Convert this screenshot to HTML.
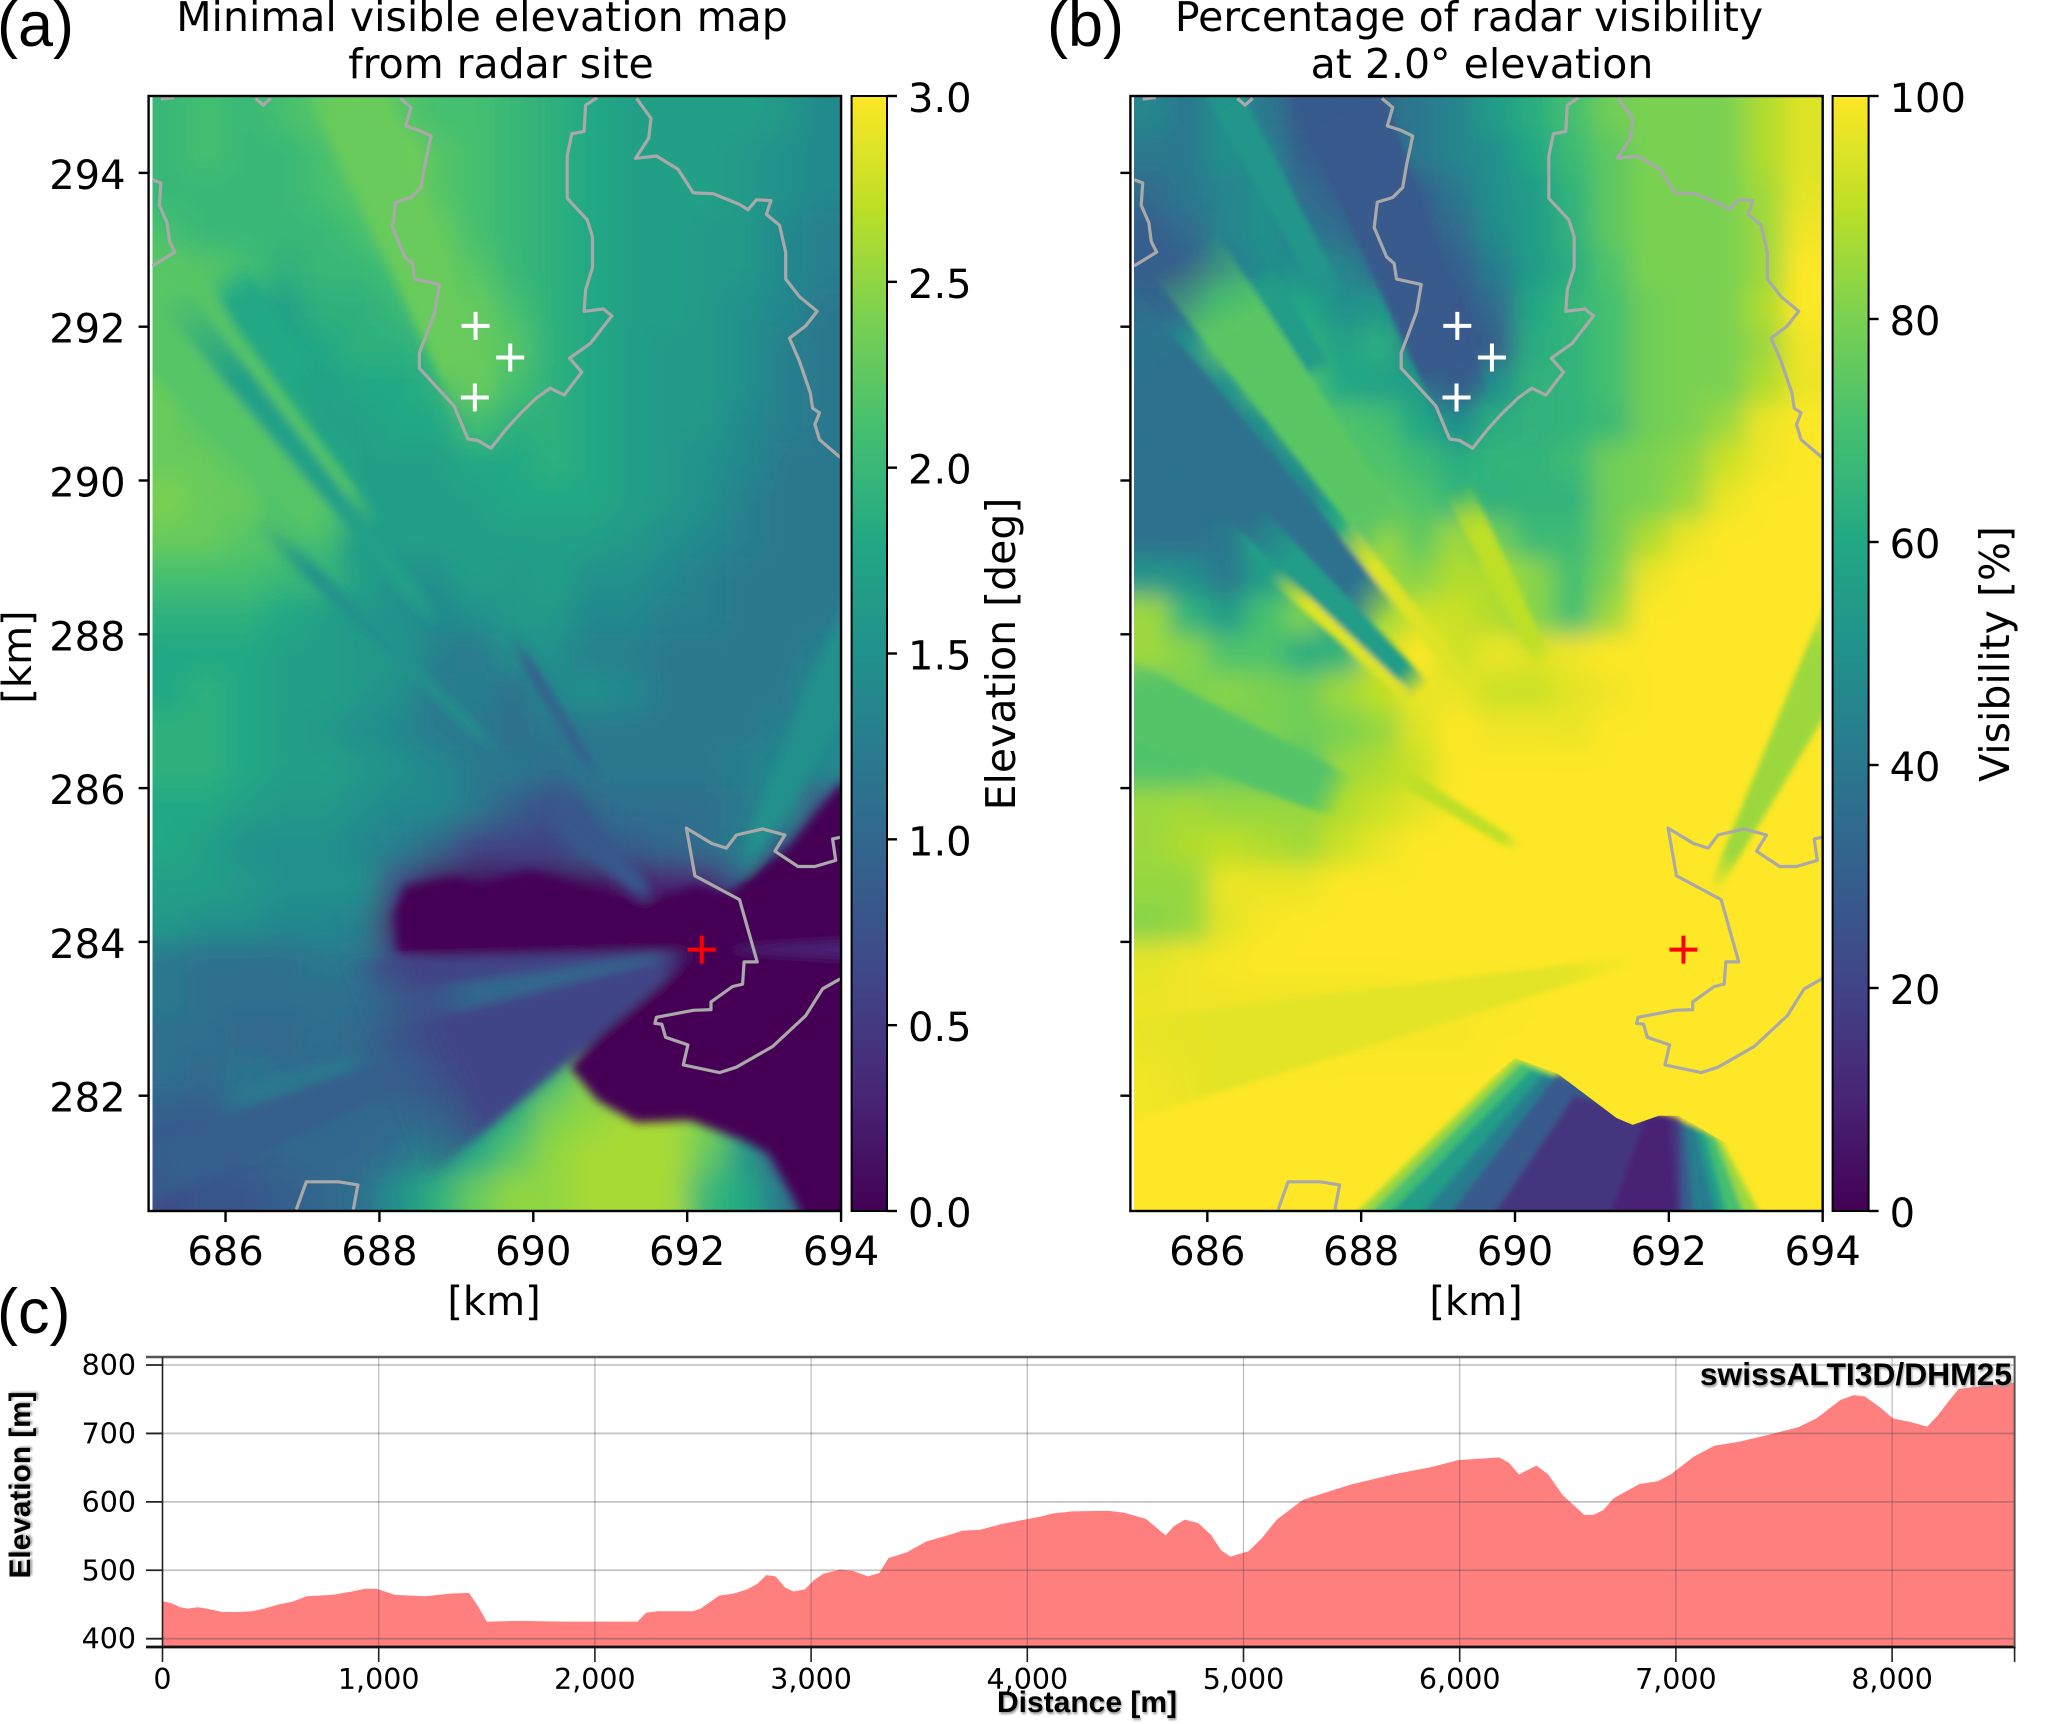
<!DOCTYPE html>
<html lang="en">
<head>
<meta charset="utf-8">
<title>Radar visibility maps and elevation profile</title>
<style>
html,body{margin:0;padding:0;background:#fff}
svg{display:block}
text{font-family:"DejaVu Sans","Liberation Sans",sans-serif;fill:#000}
.panel-tag{font-family:"Liberation Sans",sans-serif;font-size:63px}
.bold{font-family:"Liberation Sans",sans-serif;font-weight:700;filter:drop-shadow(1px 2px 1px #999)}
</style>
</head>
<body>
<svg id="fig" xmlns="http://www.w3.org/2000/svg" width="2067" height="1724" viewBox="0 0 2067 1724">
  <defs id="figDefs">
    <filter id="smoothA" filterUnits="userSpaceOnUse" x="60" y="20" width="880" height="1280"><feGaussianBlur stdDeviation="14"/></filter>
    <filter id="smoothB" filterUnits="userSpaceOnUse" x="1050" y="20" width="880" height="1280"><feGaussianBlur stdDeviation="12"/></filter>
    <filter id="softA" filterUnits="userSpaceOnUse" x="60" y="20" width="880" height="1280"><feGaussianBlur stdDeviation="5"/></filter>
    <filter id="softB" filterUnits="userSpaceOnUse" x="1050" y="20" width="880" height="1280"><feGaussianBlur stdDeviation="3"/></filter>
    <clipPath id="clipA"><rect x="152.5" y="96" width="688.5" height="1115"/></clipPath>
    <clipPath id="clipB"><rect x="1134" y="96" width="688.7" height="1115"/></clipPath>
    <clipPath id="clipAfull"><rect x="148.6" y="96" width="692.4" height="1115"/></clipPath>
    <clipPath id="clipBfull"><rect x="1130.4" y="96" width="692.3" height="1115"/></clipPath>
    <clipPath id="clipRidgeB"></clipPath>
    <linearGradient id="cbarGrad" x1="0" y1="1" x2="0" y2="0"></linearGradient>
  </defs>
  <text class="panel-tag" x="-3" y="46">(a)</text>
  <text class="panel-tag" x="1047" y="46">(b)</text>
  <text class="panel-tag" x="-3" y="1333">(c)</text>
  <text x="482" y="31" font-size="41" text-anchor="middle">Minimal visible elevation map</text>
  <text x="501" y="78" font-size="41" text-anchor="middle">from radar site</text>
  <text x="1469" y="31" font-size="41" text-anchor="middle">Percentage of radar visibility</text>
  <text x="1482" y="78" font-size="41" text-anchor="middle">at 2.0° elevation</text>
  <text font-size="40" text-anchor="middle" transform="translate(31,657) rotate(-90)">[km]</text>
  <text x="494" y="1315" font-size="40" text-anchor="middle">[km]</text>
  <text x="1476" y="1315" font-size="40" text-anchor="middle">[km]</text>
  <text font-size="41" text-anchor="middle" transform="translate(1015,654) rotate(-90)">Elevation [deg]</text>
  <text font-size="41" text-anchor="middle" transform="translate(2009,654) rotate(-90)">Visibility [%]</text>
  <text class="bold" font-size="29.8" text-anchor="middle" transform="translate(30,1485) rotate(-90)">Elevation [m]</text>
  <text class="bold" x="1087" y="1712" font-size="30" text-anchor="middle">Distance [m]</text>
  <g id="layerMaps"></g>
  <g id="layerProfile"></g>
  <text class="bold" x="2012" y="1385" font-size="31.8" text-anchor="end">swissALTI3D/DHM25</text>
</svg>
<script>
// ---------- colormap ----------
const viridisStops = ["#440154","#482475","#414487","#355f8d","#2a788e","#21918c","#22a884","#44bf70","#7ad151","#bddf26","#fde725"];

// ---------- map axes ----------
const mapXTicks = [686,688,690,692,694];
const mapYTicks = [294,292,290,288,286,284,282];
const elevationBarTicks = [0,0.5,1,1.5,2,2.5,3];
const elevationBarLabels = ["0.0","0.5","1.0","1.5","2.0","2.5","3.0"];
const visibilityBarTicks = [0,20,40,60,80,100];
const visibilityBarLabels = ["0","20","40","60","80","100"];
const gridEastKm = [685.25,685.75,686.25,686.75,687.25,687.75,688.25,688.75,689.25,689.75,690.25,690.75,691.25,691.75,692.25,692.75,693.25,693.75];
const gridNorthKm = [294.75,294.25,293.75,293.25,292.75,292.25,291.75,291.25,290.75,290.25,289.75,289.25,288.75,288.25,287.75,287.25,286.75,286.25,285.75,285.25,284.75,284.25,283.75,283.25,282.75,282.25,281.75,281.25,280.75];

// ---------- panel (a): minimal visible elevation, tenths of a degree ----------
const elevationTenths = [
[20,21,20,21,22,24,22,21,21,20,19,18,17,17,17,17,16,14],
[20,21,20,20,21,23,24,22,21,20,19,18,17,17,17,16,15,14],
[20,20,20,20,21,22,24,22,21,20,19,18,17,17,17,16,15,14],
[21,20,20,20,20,21,23,23,21,20,19,18,17,17,16,16,14,13],
[22,22,21,19,20,20,21,23,22,20,19,18,17,17,16,16,14,13],
[23,22,18,17,19,19,20,22,23,21,19,18,17,17,16,15,14,12],
[22,20,19,17,18,19,19,20,23,22,19,18,17,16,16,15,13,12],
[23,21,20,18,17,18,18,19,23,21,19,18,17,16,16,15,13,12],
[23,22,21,19,17,17,18,18,21,19,19,18,17,16,16,14,13,12],
[23,23,22,20,18,17,17,17,18,18,19,18,17,16,15,14,12,12],
[24,23,23,21,19,17,17,17,17,18,18,18,17,16,15,13,12,12],
[23,23,22,22,20,16,17,17,17,17,17,17,16,15,14,13,12,12],
[21,21,21,20,20,17,15,15,17,16,17,15,15,14,13,12,12,12],
[19,19,19,18,17,16,15,14,15,16,16,14,14,13,13,12,12,12],
[18,18,18,17,17,16,16,13,12,15,15,13,13,12,12,12,12,13],
[18,19,18,17,17,16,15,12,13,11,14,15,14,12,12,12,12,15],
[19,19,18,17,16,15,14,12,12,11,12,12,12,12,12,12,13,14],
[19,19,18,17,17,16,15,14,12,12,11,12,12,12,12,13,14,14],
[18,18,17,16,16,15,14,14,12,9,7,10,11,11,11,12,15,6],
[18,17,15,15,15,14,13,10,6,6,6,9,9,10,11,13,9,0],
[17,17,16,15,15,15,7,1,1,1,1,1,2,3,3,9,1,0],
[16,15,15,14,14,13,2,0,0,0,0,0,0,0,0,0,0,0],
[12,11,11,11,12,12,6,3,3,2,2,2,1,0,0,0,1,1],
[12,11,11,11,11,11,12,8,7,7,7,6,2,0,0,0,0,0],
[11,11,10,10,11,10,9,8,8,8,8,2,0,0,0,0,0,0],
[11,10,12,11,10,10,9,10,11,13,20,25,12,0,0,0,0,0],
[9,9,10,10,10,10,10,12,15,19,24,25,26,26,24,17,8,0],
[8,8,9,10,10,10,11,14,18,22,25,26,26,26,23,16,6,0],
[7,8,8,9,10,11,15,19,23,25,25,26,26,26,20,18,12,2]
];

// ---------- panel (a): zero-elevation regions around the radar (km, km) ----------
const clearZoneNorthA = [[688.24,283.85],[688.2,284.38],[688.33,284.73],[689.02,284.84],[689.28,284.75],[689.97,284.93],[690.66,284.73],[691.39,284.5],[692.12,284.73],[692.55,284.64],[693.33,285.25],[693.99,286.06],[694.1,286.06],[694.1,283.91],[688.93,283.85]];
const clearZoneSouthA = [[691.85,283.86],[694.1,283.86],[694.1,280.4],[693.5,280.4],[693.46,280.52],[693.07,281.24],[692.72,281.42],[692.03,281.68],[691.34,281.65],[690.83,281.94],[690.48,282.37]];

// ---------- panel (a): radial streaks, outer end in km ----------
const rayEastA = [687.2,684.3,685.3,686.0,686.4,689.7,690.1,694.6,694.6,688.0,688.3,685.9,684.3];
const rayNorthA = [296.0,293.2,292.4,292.7,289.5,288.0,286.0,288.7,283.9,282.3,283.14,281.88,280.7];
const rayStartA = [0.58,0.57,0.49,0.84,0.45,0.55,0.3,0.2,0.12,0.02,0.05,0.7,0.45];
const rayHalfWidthA = [0.5,0.72,0.2,0.25,0.12,0.07,0.3,0.42,0.15,1.55,0.22,0.12,0.4];
const rayValueA = [23,22,17,18,15,8,8,15,3,6,10,12,9];

// ---------- panel (b): visibility percent ----------
const visibilityPercent = [
[45,40,50,40,28,28,35,40,45,55,62,70,78,80,80,80,88,95],
[40,40,50,45,30,28,28,40,45,50,60,68,75,80,80,80,88,95],
[35,40,45,50,35,30,28,30,40,50,55,65,75,80,80,80,86,96],
[30,35,45,50,40,35,27,28,35,48,55,64,75,80,80,80,85,98],
[30,30,40,48,50,45,35,27,30,42,55,62,72,80,80,80,85,100],
[33,35,60,58,60,50,52,35,27,35,60,66,70,78,80,80,88,100],
[42,50,75,72,65,58,62,42,27,30,62,65,70,78,80,80,85,98],
[40,42,50,72,72,60,58,55,30,50,64,65,70,78,80,80,88,97],
[38,40,42,50,72,72,70,60,48,62,64,65,68,78,80,85,97,100],
[37,38,38,42,52,72,72,68,62,65,65,68,78,80,83,92,98,100],
[37,37,37,38,42,60,75,72,66,64,65,65,78,80,85,97,100,100],
[37,37,40,60,45,62,85,75,85,78,68,68,78,88,97,100,100,100],
[52,50,40,55,65,50,85,82,88,88,82,70,80,97,100,100,100,100],
[85,65,55,70,80,55,85,92,92,88,82,70,85,100,100,100,100,100],
[85,82,72,72,62,65,92,100,92,97,95,98,100,100,100,100,100,100],
[72,80,82,80,78,85,90,97,97,92,92,96,98,100,100,100,100,100],
[72,72,78,80,78,80,84,95,100,98,98,97,100,100,100,100,100,100],
[72,72,76,74,72,85,88,92,100,100,100,100,100,100,100,100,100,100],
[85,86,84,84,84,88,92,96,100,100,100,100,100,100,100,100,100,100],
[85,88,90,88,86,92,97,100,100,100,100,100,100,100,100,100,100,100],
[84,84,97,97,97,100,100,100,100,100,100,100,100,100,100,100,100,100],
[82,84,96,99,100,100,100,100,100,100,100,100,100,100,100,100,100,100],
[96,98,99,100,100,100,100,100,100,100,100,100,100,100,100,100,100,100],
[97,98,98,98,98,98,98,99,99,99,100,100,100,100,100,100,100,100],
[98,98,98,98,98,99,99,99,99,100,100,100,100,100,100,100,100,100],
[100,100,100,100,100,100,100,100,100,100,100,100,100,100,100,100,100,100],
[100,100,100,100,100,100,100,100,100,100,100,100,100,100,100,100,100,100],
[100,100,100,100,100,100,100,100,100,100,100,100,100,100,100,100,100,100],
[100,100,100,100,100,100,100,100,100,100,100,100,100,100,100,100,100,100]
];

// ---------- panel (b): radial streaks ----------
const rayEastB = [687.3,685.9,684.3,686.65,686.5,685.7,684.6,687.75,686.85,688.3,689.25,694.6,684.3];
const rayNorthB = [296.0,295.6,292.3,292.7,289.5,292.95,287.3,289.4,288.8,286.3,289.9,288.7,282.2];
const rayStartB = [0.58,0.72,0.5,0.85,0.6,0.58,0.58,0.6,0.65,0.55,0.62,0.16,0.08];
const rayHalfWidthB = [0.62,0.22,0.7,0.2,0.25,0.5,0.5,0.12,0.1,0.12,0.18,0.42,0.7];
const rayValueB = [28,52,37,55,55,74,73,95,95,90,90,85,96];

// ---------- panel (b): terrain-shadowed wedge south of the radar ----------
const wedgeOutlineB = [[687.4,280.4],[690.0,282.49],[690.55,282.29],[691.32,281.71],[691.53,281.62],[691.87,281.74],[692.13,281.74],[692.68,281.42],[692.98,281.24],[693.4,280.4]];
const wedgeLevelValue = [85,70,55,42,28,15,10];
const wedgeLeftBottomEast = [687.66,687.85,688.1,688.55,688.95,689.55,691.15];
const wedgeLeftTopEast = [690.0,690.08,690.21,690.38,690.55,690.77,691.7];
const wedgeLeftTopNorth = [282.49,282.43,282.34,282.29,282.29,282.0,281.71];
const wedgeRightTopEast = [692.68,692.6,692.47,692.34,692.21,692.13,692.0];
const wedgeRightTopNorth = [281.42,281.47,281.53,281.59,281.65,281.71,281.75];
const wedgeRightBottomEast = [693.32,693.07,692.81,692.68,692.34,692.17,692.13];

// ---------- municipal boundaries (km, km) ----------
const boundaryCentral = [[688.27,294.97],[688.41,294.85],[688.34,294.61],[688.50,294.56],[688.67,294.48],[688.59,294.10],[688.54,293.81],[688.41,293.68],[688.21,293.62],[688.17,293.29],[688.33,292.91],[688.43,292.82],[688.46,292.62],[688.78,292.55],[688.72,292.19],[688.59,291.84],[688.52,291.66],[688.52,291.46],[688.97,290.97],[689.15,290.54],[689.28,290.52],[689.45,290.42],[689.64,290.66],[689.84,290.88],[690.05,291.08],[690.22,291.20],[690.40,291.11],[690.63,291.41],[690.47,291.59],[690.74,291.78],[691.02,292.14],[690.91,292.23],[690.66,292.20],[690.68,292.48],[690.77,292.77],[690.77,293.17],[690.70,293.39],[690.44,293.67],[690.44,294.22],[690.50,294.51],[690.66,294.54],[690.68,294.88],[690.83,294.98]];
const boundaryEast = [[691.34,294.97],[691.53,294.71],[691.50,294.45],[691.33,294.19],[691.60,294.22],[691.88,294.05],[692.08,293.74],[692.34,293.73],[692.68,293.59],[692.79,293.52],[692.90,293.65],[693.09,293.64],[693.03,293.46],[693.20,293.32],[693.28,292.97],[693.28,292.62],[693.46,292.39],[693.69,292.20],[693.54,292.01],[693.33,291.85],[693.46,291.55],[693.60,291.14],[693.63,290.94],[693.72,290.88],[693.66,290.73],[693.72,290.53],[693.99,290.30]];
const boundaryWest = [[685.05,293.91],[685.16,293.87],[685.14,293.58],[685.24,293.35],[685.27,293.11],[685.34,292.97],[685.05,292.79]];
const boundaryNotch = [[686.39,294.97],[686.49,294.88],[686.59,294.97]];
const boundaryTopLeft = [[685.16,294.96],[685.33,294.98]];
const boundaryRadarNorth = [[693.99,285.36],[693.89,285.34],[693.93,285.06],[693.66,284.98],[693.44,284.98],[693.14,285.18],[693.27,285.39],[692.98,285.47],[692.64,285.39],[692.51,285.22],[692.32,285.28],[691.99,285.48],[692.10,284.86],[692.68,284.55],[692.91,283.74],[692.74,283.74],[692.72,283.45],[692.59,283.42],[692.31,283.22],[692.31,283.12],[692.08,283.11],[691.60,283.02],[691.58,282.94],[691.67,282.93],[691.72,282.76],[692.01,282.66],[691.95,282.40],[692.42,282.30],[692.64,282.37],[693.11,282.64],[693.54,283.04],[693.76,283.39],[693.99,283.52]];
const boundarySouth = [[686.92,280.52],[687.05,280.88],[687.47,280.88],[687.72,280.84],[687.66,280.52]];
const boundaries = [boundaryCentral,boundaryEast,boundaryWest,boundaryNotch,boundaryTopLeft,boundaryRadarNorth,boundarySouth];

// ---------- site markers ----------
const targetEast = [689.25,689.70,689.24];
const targetNorth = [292.01,291.60,291.08];
const radarEast = [692.19];
const radarNorth = [283.90];

// ---------- panel (c): terrain profile ----------
const profileXTicks = [0,1000,2000,3000,4000,5000,6000,7000,8000];
const profileXLabels = ["0","1,000","2,000","3,000","4,000","5,000","6,000","7,000","8,000"];
const profileYTicks = [400,500,600,700,800];
const profileDistance = [0,40,83,117,163,205,277,347,415,470,538,600,667,784,876,938,990,1076,1214,1337,1417,1460,1500,1644,1859,2197,2237,2290,2452,2489,2575,2643,2704,2750,2793,2836,2879,2919,2971,3011,3057,3134,3195,3263,3315,3358,3441,3533,3640,3702,3779,3886,4003,4056,4117,4207,4374,4449,4549,4640,4676,4728,4791,4849,4897,4940,5024,5085,5154,5275,5493,5690,5871,5992,6183,6228,6274,6355,6410,6476,6576,6619,6664,6712,6830,6915,6976,7082,7178,7293,7414,7566,7650,7762,7823,7874,7944,8004,8080,8162,8208,8262,8307,8383,8559];
const profileElevation = [455,452,446,444,446,444,439,439,440,444,450,454,462,464,469,473,473,464,462,466,467,447,425,426,425,425,438,440,440,444,463,466,472,480,493,491,475,469,472,485,495,501,499,491,496,518,526,542,552,558,559,568,575,578,583,586,587,584,575,551,564,574,569,552,529,520,528,547,574,603,625,640,651,661,665,657,640,653,640,610,581,581,588,605,626,630,640,666,682,688,697,709,722,749,756,754,738,722,717,710,725,747,765,768,774];

// ---------- scales ----------
const mapXScaleA = km => 148.6 + (km - 685) * 76.94;
const mapXScaleB = km => 1130.4 + (km - 685) * 76.92;
const mapYScale = km => 96 + (295 - km) * 76.9;
const elevBarY = v => 1211 - (v / 3) * 1115;
const visBarY = v => 1211 - (v / 100) * 1115;
const profX = d => 162.5 + d * 0.2162;
const profY = e => 1638.7 - (e - 400) * 0.6842;

const NS = "http://www.w3.org/2000/svg";
function mk(tag, attrs, parent){
  const n = document.createElementNS(NS, tag);
  for (const k in attrs) n.setAttribute(k, attrs[k]);
  parent.appendChild(n);
  return n;
}
function viridis(t){
  const c = Math.max(0, Math.min(1, t)) * (viridisStops.length - 1);
  const i = Math.min(viridisStops.length - 2, Math.floor(c));
  const f = c - i;
  const h = s => [1,3,5].map(p => parseInt(s.substr(p,2),16));
  const a = h(viridisStops[i]), b = h(viridisStops[i+1]);
  return "rgb(" + a.map((v,j) => Math.round(v + (b[j]-v)*f)).join(",") + ")";
}
function ptsToString(pts, xs){
  return pts.map(p => xs(p[0]).toFixed(1) + "," + mapYScale(p[1]).toFixed(1)).join(" ");
}

// colourbar gradient
const grad = document.getElementById("cbarGrad");
viridisStops.forEach((col,i) => {
  mk("stop", {offset: i / (viridisStops.length - 1), "stop-color": col}, grad);
});

const maps = document.getElementById("layerMaps");
const figDefs = document.getElementById("figDefs");

function drawMap(cfg){
  const panel = mk("g", {}, maps);
  
  

  const outerClip = mk("g", {"clip-path": "url(#" + cfg.clip + ")"}, panel);
  const cellsG = mk("g", {filter: "url(#" + cfg.filter + ")"}, outerClip);
  const half = 0.25;
  cfg.rows.forEach((row, r) => {
    row.forEach((val, c) => {
      let x0 = cfg.x(gridEastKm[c] - half), x1 = cfg.x(gridEastKm[c] + half);
      let y0 = mapYScale(gridNorthKm[r] + half), y1 = mapYScale(gridNorthKm[r] - half);
      if (c === 0) x0 -= 60;
      if (c === row.length - 1) x1 += 60;
      if (r === 0) y0 -= 60;
      if (r === cfg.rows.length - 1) y1 += 60;
      const cell = mk("rect", {x: x0, y: y0, width: x1 - x0 + 0.5, height: y1 - y0 + 0.5, fill: viridis(val / cfg.max)}, cellsG);
      
      
    });
  });

  const softG = mk("g", {filter: "url(#" + cfg.soft + ")"}, outerClip);
  cfg.zones.forEach(z => {
    const zone = mk("polygon", {points: ptsToString(z, cfg.x), fill: viridis(0)}, softG);
    
    
  });
  cfg.rayEast.forEach((e,i) => {
    const dx = e - radarEast[0], dy = cfg.rayNorth[i] - radarNorth[0];
    const len = Math.hypot(dx, dy), nx = -dy / len, ny = dx / len, f = cfg.rayStart[i], w = cfg.rayHalf[i];
    const sx = radarEast[0] + dx * f, sy = radarNorth[0] + dy * f;
    const col = viridis(cfg.rayValue[i] / cfg.max);
    const gid = cfg.name + "-ray-" + i;
    const lg = mk("linearGradient", {id: gid, gradientUnits: "userSpaceOnUse", x1: cfg.x(sx), y1: mapYScale(sy), x2: cfg.x(e), y2: mapYScale(cfg.rayNorth[i])}, figDefs);
    mk("stop", {offset: 0, "stop-color": col, "stop-opacity": 0}, lg);
    mk("stop", {offset: 0.12, "stop-color": col, "stop-opacity": 1}, lg);
    mk("stop", {offset: 0.75, "stop-color": col, "stop-opacity": 1}, lg);
    mk("stop", {offset: 1, "stop-color": col, "stop-opacity": 0}, lg);
    const poly = [[sx + nx*w*f, sy + ny*w*f],[e + nx*w, cfg.rayNorth[i] + ny*w],[e - nx*w, cfg.rayNorth[i] - ny*w],[sx - nx*w*f, sy - ny*w*f]];
    const ray = mk("polygon", {points: ptsToString(poly, cfg.x), fill: "url(#" + gid + ")"}, softG);
    
    
  });
  if (cfg.wedge){
    const clipDef = document.getElementById("clipRidgeB");
    mk("polygon", {points: ptsToString(wedgeOutlineB, cfg.x)}, clipDef);
    const wedgeClip = mk("g", {"clip-path": "url(#clipRidgeB)"}, outerClip);
    const wedgeG = mk("g", {filter: "url(#" + cfg.soft + ")"}, wedgeClip);
    wedgeLevelValue.forEach((v,i) => {
      const poly = [[wedgeLeftBottomEast[i],280.2],[wedgeLeftTopEast[i],wedgeLeftTopNorth[i]],[wedgeRightTopEast[i],wedgeRightTopNorth[i]],[wedgeRightBottomEast[i],280.2]];
      const band = mk("polygon", {points: ptsToString(poly, cfg.x), fill: viridis(v / cfg.max)}, wedgeG);
      
      
    });
  }

  const lines = mk("g", {"clip-path": "url(#" + cfg.fullClip + ")"}, panel);
  boundaries.forEach(b => {
    const pl = mk("polyline", {points: ptsToString(b, cfg.x), fill: "none", stroke: "#a9a9a9", "stroke-width": 3.2, "stroke-linejoin": "round"}, lines);
    
    
  });

  function plus(px, py, col, nm){
    const p = mk("path", {d: "M" + (px-14) + " " + py + "H" + (px+14) + "M" + px + " " + (py-14) + "V" + (py+14), stroke: col, "stroke-width": 4, fill: "none"}, panel);
    
    
  }
  targetEast.forEach((e,i) => plus(cfg.x(e), mapYScale(targetNorth[i]), "#fff", "target-marker"));
  radarEast.forEach((e,i) => plus(cfg.x(e), mapYScale(radarNorth[i]), "#f00", "radar-marker"));

  const left = cfg.x(685), right = cfg.x(694);
  const frame = mk("rect", {x: left, y: 96, width: right - left, height: 1115, fill: "none", stroke: "#000", "stroke-width": 2.4}, panel);
  
  

  mapXTicks.forEach(v => {
    const px = cfg.x(v);
    const t = mk("line", {x1: px, x2: px, y1: 1211, y2: 1222, stroke: "#000", "stroke-width": 2.4}, panel);
    
    
    const l = mk("text", {x: px, y: 1265, "font-size": 40, "text-anchor": "middle"}, panel);
    l.textContent = String(v);
    
    
  });
  mapYTicks.forEach(v => {
    const py = mapYScale(v);
    const t = mk("line", {x1: left - 10, x2: left, y1: py, y2: py, stroke: "#000", "stroke-width": 2.4}, panel);
    
    
    if (cfg.showYLabels){
      const l = mk("text", {x: left - 23, y: py + 16, "font-size": 40, "text-anchor": "end"}, panel);
      l.textContent = String(v);
      
      
    }
  });

  const bar = mk("rect", {x: cfg.barX, y: 96, width: cfg.barW, height: 1115, fill: "url(#cbarGrad)", stroke: "#000", "stroke-width": 2}, panel);
  
  
  cfg.barTicks.forEach((v,i) => {
    const py = cfg.barY(v);
    const t = mk("line", {x1: cfg.barX + cfg.barW, x2: cfg.barX + cfg.barW + 10, y1: py, y2: py, stroke: "#000", "stroke-width": 2.4}, panel);
    
    
    const l = mk("text", {x: cfg.barX + cfg.barW + 21, y: py + 16, "font-size": 40}, panel);
    l.textContent = cfg.barLabels[i];
    
    
  });
}

drawMap({name:"elevation", rows: elevationTenths, max: 30, x: mapXScaleA, clip:"clipA", fullClip:"clipAfull", filter:"smoothA", soft:"softA", showYLabels:true, barX: 851.6, barW: 35.4, barY: elevBarY, barTicks: elevationBarTicks, barLabels: elevationBarLabels, zones:[clearZoneNorthA, clearZoneSouthA], rayEast: rayEastA, rayNorth: rayNorthA, rayStart: rayStartA, rayHalf: rayHalfWidthA, rayValue: rayValueA, wedge:false});
drawMap({name:"visibility", rows: visibilityPercent, max: 100, x: mapXScaleB, clip:"clipB", fullClip:"clipBfull", filter:"smoothB", soft:"softB", showYLabels:false, barX: 1832.6, barW: 36, barY: visBarY, barTicks: visibilityBarTicks, barLabels: visibilityBarLabels, zones:[], rayEast: rayEastB, rayNorth: rayNorthB, rayStart: rayStartB, rayHalf: rayHalfWidthB, rayValue: rayValueB, wedge:true});

// ---------- profile panel ----------
const prof = document.getElementById("layerProfile");
const pLeft = 162.5, pRight = 2014.6, pTop = 1357, pBottom = 1647;
const area = mk("polygon", {points: profileDistance.map((d,i) => profX(d).toFixed(1) + "," + profY(profileElevation[i]).toFixed(1)).join(" ") + " " + pRight + "," + profY(profileElevation[profileElevation.length-1]).toFixed(1) + " " + pRight + "," + pBottom + " " + pLeft + "," + pBottom, fill: "#ff7f7f"}, prof);



profileYTicks.forEach(v => {
  const py = profY(v);
  const g = mk("line", {x1: pLeft, x2: pRight, y1: py, y2: py, stroke: "rgba(70,70,70,.32)", "stroke-width": 1.8}, prof);
  
  
  const t = mk("line", {x1: 146, x2: pLeft, y1: py, y2: py, stroke: "#222", "stroke-width": 1.8}, prof);
  
  
  const l = mk("text", {x: 136, y: py + 10, "font-size": 28.5, "text-anchor": "end", fill: "#222"}, prof);
  l.textContent = String(v);
  
  
});
profileXTicks.forEach((v,i) => {
  const px = profX(v);
  const g = mk("line", {x1: px, x2: px, y1: pTop, y2: pBottom, stroke: "rgba(60,60,60,.35)", "stroke-width": 1.2}, prof);
  
  
  const t = mk("line", {x1: px, x2: px, y1: pBottom, y2: pBottom + 15, stroke: "#222", "stroke-width": 1.6}, prof);
  
  
  const l = mk("text", {x: px, y: 1689, "font-size": 28.5, "text-anchor": "middle", fill: "#222"}, prof);
  l.textContent = profileXLabels[i];
  
  
});
const endTick = mk("line", {x1: pRight, x2: pRight, y1: pBottom, y2: pBottom + 15, stroke: "#222", "stroke-width": 1.6}, prof);


const topLine = mk("line", {x1: 146, x2: pRight + 1, y1: pTop, y2: pTop, stroke: "#555", "stroke-width": 2.6}, prof);


const botLine = mk("line", {x1: 146, x2: pRight + 1, y1: pBottom, y2: pBottom, stroke: "#111", "stroke-width": 2.8}, prof);


const leftLine = mk("line", {x1: pLeft, x2: pLeft, y1: pTop, y2: pBottom, stroke: "#222", "stroke-width": 1.6}, prof);


const rightLine = mk("line", {x1: pRight, x2: pRight, y1: pTop, y2: pBottom, stroke: "#555", "stroke-width": 2}, prof);


</script>
</body>
</html>
